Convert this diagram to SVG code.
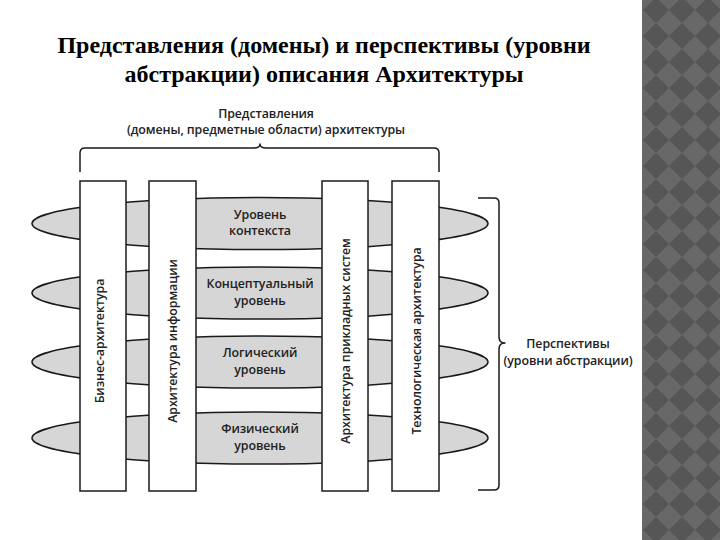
<svg xmlns="http://www.w3.org/2000/svg" width="720" height="540" viewBox="0 0 720 540">
<defs>
<pattern id="diam" x="643" y="-3" width="26" height="26" patternUnits="userSpaceOnUse">
<rect width="26" height="26" fill="#686868"/>
<polygon points="13,0 26,13 13,26 0,13" fill="#565656"/>
</pattern>
<style>
.title{font-family:"Liberation Serif","Times New Roman",serif;font-weight:bold;font-size:24px;fill:#000;text-anchor:middle}
.lbl{font-family:"Open Sans","Noto Sans",sans-serif;font-weight:600;font-size:12.4px;letter-spacing:-0.1px;fill:#222;text-anchor:middle}
.band{fill:#d6d6d6;stroke:#1a1a1a;stroke-width:1.5}
.col{fill:#fff;stroke:#1a1a1a;stroke-width:1.5}
.brace{fill:none;stroke:#1a1a1a;stroke-width:1.5;stroke-linejoin:round}
</style>
</defs>
<rect width="720" height="540" fill="#fff"/>
<rect x="642" y="0" width="78" height="540" fill="url(#diam)"/>

<g id="title">
<text class="title" x="324" y="53">Представления (домены) и перспективы (уровни</text>
<text class="title" x="324" y="82">абстракции) описания Архитектуры</text>
</g>

<g id="views-label">
<text class="lbl" x="266" y="118">Представления</text>
<text class="lbl" x="266" y="133.5">(домены, предметные области) архитектуры</text>
</g>

<g id="connectors">
<path class="brace" d="M80,172 V153 Q80,148 85,148 H254 Q260,148 260,144 Q260,148 266,148 H434 Q439,148 439,153 V172"/>
<path class="brace" d="M478,198 H494 Q499,198 499,203 V337 Q499,343 505,343 Q499,343 499,349 V485 Q499,490 494,490 H478"/>
</g>

<g id="level-context"><ellipse class="band" cx="260" cy="223.5" rx="228" ry="26"/></g>
<g id="level-conceptual"><ellipse class="band" cx="260" cy="293" rx="228" ry="26"/></g>
<g id="level-logical"><ellipse class="band" cx="260" cy="362" rx="228" ry="26"/></g>
<g id="level-physical"><ellipse class="band" cx="260" cy="438" rx="228" ry="26"/></g>

<g id="col-business">
<rect class="col" x="80" y="181" width="46" height="310"/>
<text class="lbl" transform="translate(104,341) rotate(-90)">Бизнес-архитектура</text>
</g>
<g id="col-information">
<rect class="col" x="149" y="181" width="47" height="310"/>
<text class="lbl" transform="translate(177,341) rotate(-90)">Архитектура информации</text>
</g>
<g id="col-applications">
<rect class="col" x="322" y="181" width="46" height="310"/>
<text class="lbl" transform="translate(350,341) rotate(-90)">Архитектура прикладных систем</text>
</g>
<g id="col-technology">
<rect class="col" x="392" y="181" width="47" height="310"/>
<text class="lbl" transform="translate(421,341) rotate(-90)">Технологическая архитектура</text>
</g>

<g id="level-labels">
<text class="lbl" x="260" y="218.5">Уровень</text>
<text class="lbl" x="260" y="235">контекста</text>
<text class="lbl" x="260" y="288">Концептуальный</text>
<text class="lbl" x="260" y="304.5">уровень</text>
<text class="lbl" x="260" y="357">Логический</text>
<text class="lbl" x="260" y="373.5">уровень</text>
<text class="lbl" x="260" y="433">Физический</text>
<text class="lbl" x="260" y="449.5">уровень</text>
</g>

<g id="perspectives-label">
<text class="lbl" x="568" y="348">Перспективы</text>
<text class="lbl" x="568" y="364.5">(уровни абстракции)</text>
</g>
</svg>
